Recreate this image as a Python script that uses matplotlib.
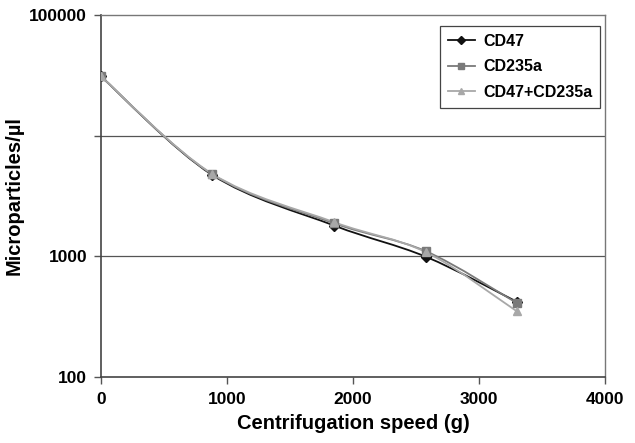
import numpy as np
import matplotlib
matplotlib.use("Agg")
import matplotlib.pyplot as plt
from matplotlib.path import Path
from matplotlib.patches import PathPatch
from matplotlib.lines import Line2D

plt.rcParams['font.family'] = ['Liberation Sans', 'DejaVu Sans']
plt.rcParams['font.weight'] = 'bold'

# Данні
speed = [0, 880, 1850, 2580, 3300]
cd47 = [31000, 4750, 1800, 990, 420]
cd235a = [31000, 4800, 1880, 1100, 410]
cd47_cd235a = [31000, 4850, 1920, 1080, 350]

series = [
    ("CD47", cd47, "#111111", "D", 5),
    ("CD235a", cd235a, "#7a7a7a", "s", 6),
    ("CD47+CD235a", cd47_cd235a, "#a8a8a8", "^", 6),
]

fig = plt.figure(figsize=(6.35, 4.43), dpi=100)
ax = fig.add_axes([0.159, 0.149, 0.794, 0.817])
ax.set_yscale('log')
ax.set_xlim(0, 4000)
ax.set_ylim(100, 100000)


# Згладжена лінія (як у Excel) - Безьє в просторі (x, log10 y)
def smooth_path(xs, ys):
    lx = np.array(xs, dtype=float) / 4000.0
    ly = np.log10(np.array(ys, dtype=float)) / 3.0
    verts = [(lx[0], ly[0])]
    codes = [Path.MOVETO]
    n = len(lx)
    for i in range(n - 1):
        p0 = i - 1 if i > 0 else i
        p3 = i + 2 if i + 2 < n else i + 1
        c1 = (lx[i] + (lx[i + 1] - lx[p0]) / 6, ly[i] + (ly[i + 1] - ly[p0]) / 6)
        c2 = (lx[i + 1] - (lx[p3] - lx[i]) / 6, ly[i + 1] - (ly[p3] - ly[i]) / 6)
        verts += [c1, c2, (lx[i + 1], ly[i + 1])]
        codes += [Path.CURVE4] * 3
    verts = [(vx * 4000.0, 10 ** (vy * 3.0)) for vx, vy in verts]
    return Path(verts, codes)


for name, vals, col, mk, ms in series:
    ax.add_patch(PathPatch(smooth_path(speed, vals), facecolor='none',
                           edgecolor=col, lw=1.3, zorder=3))
    ax.plot(speed, vals, linestyle='none', marker=mk, color=col, ms=ms, zorder=4)

ax.set_yticks([100, 1000, 10000, 100000])
ax.set_yticklabels(['100', '1000', '', '100000'])
ax.yaxis.set_minor_locator(matplotlib.ticker.NullLocator())
ax.set_xticks([0, 1000, 2000, 3000, 4000])
ax.tick_params(axis='both', direction='out', length=5, width=1, color='#555555',
               labelsize=12.5)
ax.tick_params(axis='x', pad=6)
ax.tick_params(axis='y', pad=5)
for lab in ax.get_xticklabels() + ax.get_yticklabels():
    lab.set_fontweight('bold')

for y in [1000, 10000]:
    ax.axhline(y, color='#555555', lw=0.9, zorder=1)

for side in ['left', 'bottom']:
    ax.spines[side].set_color('#444444')
    ax.spines[side].set_linewidth(1.2)
for side in ['right', 'top']:
    ax.spines[side].set_color('#777777')
    ax.spines[side].set_linewidth(1.0)

ax.set_xlabel('Centrifugation speed (g)', fontsize=14.5, fontweight='bold', labelpad=5)
ax.set_ylabel('Microparticles/µl', fontsize=14.5, fontweight='bold', labelpad=4)

handles = [Line2D([0], [0], color=col, marker=mk, ms=ms - 1, lw=1.3)
           for name, vals, col, mk, ms in series]
leg = ax.legend(handles, [s[0] for s in series], loc='upper right',
                bbox_to_anchor=(0.99, 0.97), borderaxespad=0,
                prop={'weight': 'bold', 'size': 11.5},
                fancybox=False, edgecolor='#444444', framealpha=1,
                handlelength=1.7, handletextpad=0.5, labelspacing=0.65,
                borderpad=0.5)
leg.get_frame().set_linewidth(0.9)

fig.savefig('out.png', dpi=100)
